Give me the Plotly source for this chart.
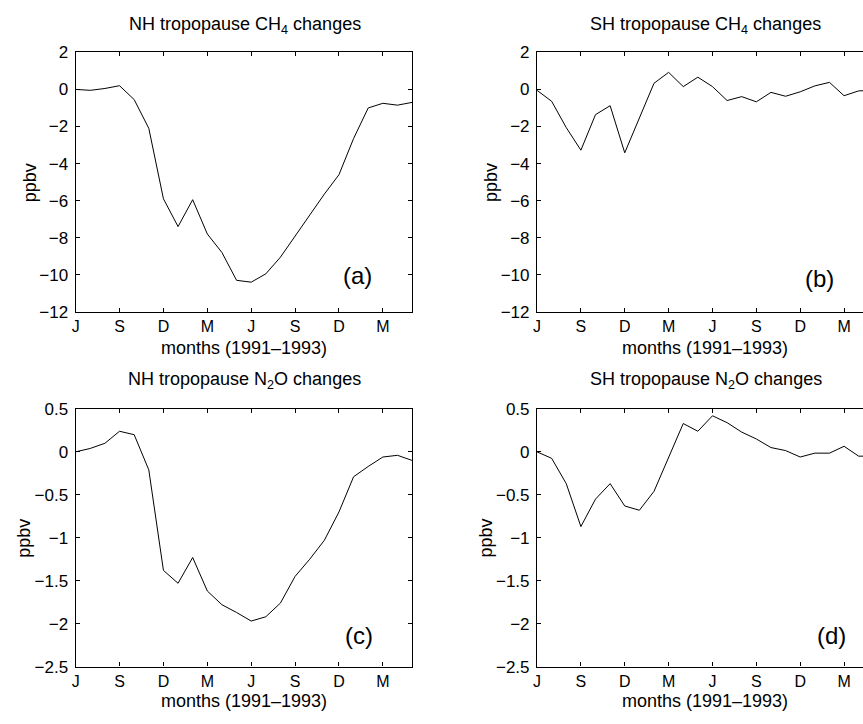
import plotly.graph_objects as go

W, H = 863, 724

months = list(range(24))
month_ticks = [0, 3, 6, 9, 12, 15, 18, 21]
month_labels = ["J", "S", "D", "M", "J", "S", "D", "M"]

nh_ch4 = [0.0, -0.05, 0.05, 0.2, -0.55, -2.1, -5.9, -7.4, -5.95, -7.8, -8.8, -10.3,
          -10.4, -9.95, -9.05, -7.9, -6.8, -5.65, -4.6, -2.65, -1.0, -0.75, -0.85, -0.7]
sh_ch4 = [-0.05, -0.64, -2.06, -3.28, -1.36, -0.88, -3.42, -1.5, 0.33, 0.92, 0.15, 0.66,
          0.15, -0.6, -0.39, -0.67, -0.16, -0.37, -0.13, 0.19, 0.38, -0.34, -0.08, -0.05]
nh_n2o = [0.0, 0.04, 0.1, 0.24, 0.2, -0.21, -1.38, -1.53, -1.23, -1.62, -1.78, -1.87,
          -1.97, -1.92, -1.76, -1.45, -1.25, -1.03, -0.7, -0.29, -0.17, -0.06, -0.04, -0.1]
sh_n2o = [0.0, -0.075, -0.37, -0.87, -0.55, -0.37, -0.63, -0.68, -0.46, -0.07, 0.33, 0.24,
          0.42, 0.34, 0.23, 0.15, 0.05, 0.015, -0.06, -0.015, -0.015, 0.065, -0.05, -0.05]

ch4_ticks = [2, 0, -2, -4, -6, -8, -10, -12]
n2o_ticks = [0.5, 0, -0.5, -1, -1.5, -2, -2.5]

titles = ["NH tropopause CH<sub>4</sub> changes", "SH tropopause CH<sub>4</sub> changes",
          "NH tropopause N<sub>2</sub>O changes", "SH tropopause N<sub>2</sub>O changes"]
panel_tags = ["(a)", "(b)", "(c)", "(d)"]
xlabel = "months (1991\u20131993)"
ylabel = "ppbv"

FONT = "Liberation Sans, Arial, Helvetica, sans-serif"
FS = 18
TFS = 16

def fmt(v):
    s = ("%g" % v)
    return s.replace("-", "\u2212")

def px_x(x):
    return x / W

def px_y(y):
    return 1 - y / H

# pixel geometry
left_dom = [72 / W, 410 / W]
right_dom = [535.5 / W, 1.0]
top_dom = [px_y(311), px_y(44.5)]
bot_dom = [px_y(675.3), px_y(410.7)]
right_end = (W - 535.5) / 14.69

fig = go.Figure()
series = [nh_ch4, sh_ch4, nh_n2o, sh_n2o]
for i, s in enumerate(series):
    fig.add_trace(go.Scatter(x=months, y=s, mode="lines",
                             line=dict(color="black", width=1),
                             xaxis="x" if i == 0 else f"x{i+1}",
                             yaxis="y" if i == 0 else f"y{i+1}",
                             showlegend=False, hoverinfo="skip"))

layout = dict(width=W, height=H, margin=dict(l=0, r=0, t=0, b=0),
              paper_bgcolor="white", plot_bgcolor="white",
              font=dict(family=FONT, size=FS, color="black"), showlegend=False)

specs = [
    (left_dom, top_dom, [0, 23], ch4_ticks, [-12, 2], True),
    (right_dom, top_dom, [0, right_end], ch4_ticks, [-12, 2], False),
    (left_dom, bot_dom, [0, 23], n2o_ticks, [-2.5, 0.5], True),
    (right_dom, bot_dom, [0, right_end], n2o_ticks, [-2.5, 0.5], False),
]
annotations = []
for i, (xd, yd, xr, yt, yr, is_left) in enumerate(specs):
    xn = "xaxis" if i == 0 else f"xaxis{i+1}"
    yn = "yaxis" if i == 0 else f"yaxis{i+1}"
    xa = "x" if i == 0 else f"x{i+1}"
    ya = "y" if i == 0 else f"y{i+1}"
    layout[xn] = dict(domain=xd, anchor=ya, range=xr, tickmode="array",
                      tickvals=month_ticks, ticktext=month_labels,
                      ticks="inside", ticklen=4, tickcolor="black", tickwidth=1,
                      showline=True, linecolor="black", linewidth=1.2,
                      mirror="ticks", showgrid=False, zeroline=False,
                      tickfont=dict(size=TFS, family=FONT), fixedrange=True)
    layout[yn] = dict(domain=yd, anchor=xa, range=yr, tickmode="array",
                      tickvals=yt, ticktext=[fmt(v) for v in yt],
                      ticks="inside", ticklen=4, tickcolor="black", tickwidth=1,
                      showline=True, linecolor="black", linewidth=1.2,
                      mirror="ticks" if is_left else False,
                      showgrid=False, zeroline=False, ticklabelstandoff=3,
                      tickfont=dict(size=TFS + 1, family=FONT), fixedrange=True)

# text placement (pixel centers)
title_pos = [(242, 17), (705, 17), (242, 381), (705, 381)]
xlabel_pos = [(241, 348), (704, 348), (241, 711), (704, 711)]
ylabel_pos = [(26, 178), (490, 178), (20, 543), (484, 543)]
tag_pos = [(355, 274), (819, 277), (357, 643), (831, 643)]

for i in range(4):
    tx, ty = title_pos[i]
    annotations.append(dict(text=titles[i], x=px_x(tx), y=px_y(ty), xref="paper", yref="paper",
                            xanchor="center", yanchor="middle", showarrow=False,
                            font=dict(size=FS, family=FONT)))
    lx, ly = xlabel_pos[i]
    annotations.append(dict(text=xlabel, x=px_x(lx), y=px_y(ly), xref="paper", yref="paper",
                            xanchor="center", yanchor="middle", showarrow=False,
                            font=dict(size=FS, family=FONT)))
    yx, yy = ylabel_pos[i]
    annotations.append(dict(text=ylabel, x=px_x(yx), y=px_y(yy), xref="paper", yref="paper",
                            xanchor="center", yanchor="middle", showarrow=False, textangle=-90,
                            font=dict(size=FS, family=FONT)))
    gx, gy = tag_pos[i]
    annotations.append(dict(text=panel_tags[i], x=px_x(gx), y=px_y(gy), xref="paper", yref="paper",
                            xanchor="center", yanchor="middle", showarrow=False,
                            font=dict(size=24, family=FONT)))

layout["annotations"] = annotations
fig.update_layout(**layout)
fig.write_html("out.html", config={"displayModeBar": False})
